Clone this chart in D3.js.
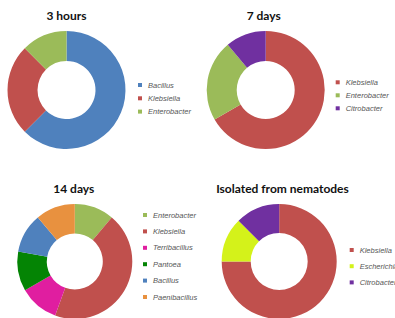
<!DOCTYPE html>
<html>
<head>
<meta charset="utf-8">
<script src="https://cdn.jsdelivr.net/npm/d3@7"></script>
<style>
  body { margin: 0; background: #fff; }
  svg { display: block; }
  .title { font-family: Lato, "Open Sans", sans-serif; font-weight: bold; font-size: 12px; fill: #111; }
  .legend text { font-family: "Liberation Sans", Arial, sans-serif; font-style: italic; font-size: 7.5px; fill: #555; }
</style>
</head>
<body>
<svg id="chart" width="395" height="318"></svg>
<script>
// chart titles
const titles = ['3 hours', '7 days', '14 days', 'Isolated from nematodes'];

// genera + counts for each sample
const hoursNames = ['Bacillus', 'Klebsiella', 'Enterobacter'];
const hoursValues = [5, 2, 1];

const sevenNames = ['Klebsiella', 'Enterobacter', 'Citrobacter'];
const sevenValues = [6, 2, 1];

const fourteenNames = ['Enterobacter', 'Klebsiella', 'Terribacillus', 'Pantoea', 'Bacillus', 'Paenibacillus'];
const fourteenValues = [1, 4, 1, 1, 1, 1];

const nemaNames = ['Klebsiella', 'Escherichia', 'Citrobacter'];
const nemaValues = [6, 1, 1];

const color = d3.scaleOrdinal()
    .domain(['Bacillus', 'Klebsiella', 'Enterobacter', 'Citrobacter', 'Terribacillus', 'Pantoea', 'Paenibacillus', 'Escherichia'])
    .range(['#4f81bd', '#c0504d', '#9bbb59', '#7030a0', '#e01ea0', '#048404', '#e8913f', '#d4f21a']);

const svg = d3.select('#chart');

// layout of the four panels
const panels = [
  {names: hoursNames, values: hoursValues, cx: 66.5, cy: 90, r: 59, ir: 29, tx: 66.5, ty: 20,
   lx: 140, ly: 85, step: 13.3},
  {names: sevenNames, values: sevenValues, cx: 265.7, cy: 90, r: 59, ir: 29, tx: 263.7, ty: 20,
   lx: 337.7, ly: 82.3, step: 13},
  {names: fourteenNames, values: fourteenValues, cx: 74.8, cy: 261.5, r: 57.5, ir: 28, tx: 73.8, ty: 193,
   lx: 145, ly: 215, step: 16.4},
  {names: nemaNames, values: nemaValues, cx: 279.2, cy: 261.5, r: 57.5, ir: 28.5, tx: 282.5, ty: 193,
   lx: 351.7, ly: 250, step: 16.2}
];

const pie = d3.pie().sort(null).value((d) => d.value);

panels.forEach((p, i) => {
  const data = p.names.map((n, j) => ({name: n, value: p.values[j]}));
  const arc = d3.arc().innerRadius(p.ir).outerRadius(p.r);

  svg.append('g')
      .attr('transform', `translate(${ p.cx },${ p.cy })`)
    .selectAll('path')
      .data(pie(data))
    .enter().append('path')
      .attr('d', arc)
      .attr('fill', (d) => color(d.data.name));

  svg.append('text')
      .attr('class', 'title')
      .attr('x', p.tx)
      .attr('y', p.ty)
      .attr('text-anchor', 'middle')
      .text(titles[i]);

  const leg = svg.append('g')
      .attr('class', 'legend')
      .attr('transform', `translate(${ p.lx },${ p.ly })`);

  const row = leg.selectAll('g')
      .data(p.names)
    .enter().append('g')
      .attr('transform', (d, j) => `translate(0,${ j * p.step })`);

  row.append('rect')
      .attr('x', -2)
      .attr('y', -2)
      .attr('width', 4)
      .attr('height', 4)
      .attr('fill', (d) => color(d));

  row.append('text')
      .attr('x', 8)
      .attr('dy', '0.35em')
      .text((d) => d);
});
</script>
</body>
</html>
